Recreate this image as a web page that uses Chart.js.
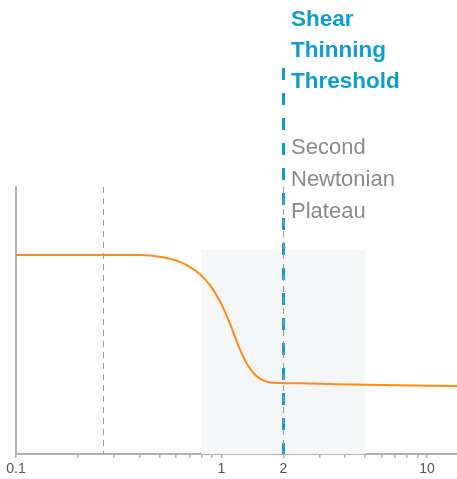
<!DOCTYPE html>
<html>
<head>
<meta charset="utf-8">
<script src="https://cdn.jsdelivr.net/npm/chart.js@4/dist/chart.umd.min.js"></script>
<style>
  html, body { margin: 0; padding: 0; background: #ffffff; }
  #wrap { width: 457px; height: 479px; }
</style>
</head>
<body>
<div id="wrap"><canvas id="chart" width="457" height="479"></canvas></div>
<script>
// Viscosity curve against shear rate (log scale), relative units on y
const shearRate = [0.1, 0.32, 0.40, 0.50, 0.628, 0.786, 0.879, 0.983, 1.100, 1.164, 1.231, 1.302, 1.377, 1.457, 1.541, 1.630, 1.724, 1.929, 2.415, 5.933, 14];
const viscosity = [74.53, 74.53, 74.53, 73.90, 71.95, 67.34, 63.22, 57.23, 48.80, 43.82, 39.06, 35.06, 31.95, 29.70, 28.20, 27.30, 26.82, 26.59, 26.48, 25.84, 25.47];

// Axis ticks
const xTicks = [0.1, 0.2, 0.3, 0.4, 0.5, 0.6, 0.7, 0.8, 0.9, 1, 2, 3, 4, 5, 6, 7, 8, 9, 10];
const xLabeled = [0.1, 1, 2, 10];
const xRange = [0.1, 14];
const yRange = [0, 100];

// Shaded transition band
const bandX = [0.8, 5];
const bandY = [0, 76.4];

// Reference lines
const onsetRate = 0.265;       // thin dashed marker
const thresholdRate = 2;       // highlighted threshold
const thresholdTop = 144.6;    // threshold line reaches above the plot
const thresholdLabel = ['Shear', 'Thinning', 'Threshold'];
const plateauLabel = ['Second', 'Newtonian', 'Plateau'];

const points = shearRate.map((x, i) => ({ x, y: viscosity[i] }));

const overlay = {
  id: 'overlay',
  beforeDatasetsDraw(chart) {
    const { ctx, scales: { x, y } } = chart;
    ctx.save();
    ctx.fillStyle = '#f5f6f8';
    const x0 = x.getPixelForValue(bandX[0]);
    const x1 = x.getPixelForValue(bandX[1]);
    const y0 = y.getPixelForValue(bandY[1]);
    const y1 = y.getPixelForValue(bandY[0]);
    ctx.fillRect(x0, y0, x1 - x0, y1 - y0);

    // thin dashed onset marker
    ctx.strokeStyle = '#9a9a9a';
    ctx.lineWidth = 1;
    ctx.setLineDash([6, 5]);
    const xo = Math.round(x.getPixelForValue(onsetRate)) + 0.5;
    ctx.beginPath();
    ctx.moveTo(xo, y.getPixelForValue(yRange[1]));
    ctx.lineTo(xo, y.getPixelForValue(yRange[0]));
    ctx.stroke();
    ctx.restore();
  },
  afterDatasetsDraw(chart) {
    const { ctx, scales: { x, y } } = chart;
    const xt = Math.round(x.getPixelForValue(thresholdRate));
    ctx.save();
    // highlighted threshold line
    ctx.strokeStyle = '#0e9dd0';
    ctx.lineWidth = 3;
    ctx.setLineDash([12, 13]);
    ctx.beginPath();
    ctx.moveTo(xt + 0.5, y.getPixelForValue(thresholdTop));
    ctx.lineTo(xt + 0.5, y.getPixelForValue(yRange[0]));
    ctx.stroke();

    // thin dashed marker at the same rate, inside the plot
    ctx.strokeStyle = '#9a9a9a';
    ctx.lineWidth = 1;
    ctx.setLineDash([6, 5]);
    ctx.beginPath();
    ctx.moveTo(xt + 0.5, y.getPixelForValue(yRange[1]));
    ctx.lineTo(xt + 0.5, y.getPixelForValue(yRange[0]));
    ctx.stroke();
    ctx.setLineDash([]);

    // labels
    ctx.textBaseline = 'middle';
    ctx.textAlign = 'left';
    ctx.fillStyle = '#0e9dd0';
    ctx.font = 'bold 22.5px "Liberation Sans", Arial, sans-serif';
    thresholdLabel.forEach((t, i) => ctx.fillText(t, xt + 8, 20 + i * 31));
    ctx.fillStyle = '#8a8a8a';
    ctx.font = '22px "Liberation Sans", Arial, sans-serif';
    plateauLabel.forEach((t, i) => ctx.fillText(t, xt + 8, 148 + i * 32));
    ctx.restore();
  }
};

new Chart(document.getElementById('chart'), {
  type: 'line',
  data: {
    datasets: [{
      data: points,
      borderColor: '#ff8a14',
      borderWidth: 2,
      pointRadius: 0,
      fill: false,
      cubicInterpolationMode: 'monotone'
    }]
  },
  options: {
    responsive: false,
    animation: false,
    events: [],
    layout: { padding: { top: 187, left: 16, right: 0, bottom: 0 } },
    plugins: { legend: { display: false }, tooltip: { enabled: false } },
    scales: {
      x: {
        type: 'logarithmic',
        min: xRange[0],
        max: xRange[1],
        afterBuildTicks(scale) {
          scale.ticks = xTicks.map(v => ({ value: v }));
        },
        afterFit(scale) { scale.height = 25; },
        border: { display: true, color: '#b0b0b0', width: 2 },
        grid: { display: true, drawOnChartArea: false, drawTicks: true, tickLength: 4, color: '#b0b0b0', lineWidth: 1.5 },
        ticks: {
          autoSkip: false,
          maxRotation: 0,
          padding: 3,
          color: '#555555',
          font: { family: '"Liberation Sans", Arial, sans-serif', size: 14 },
          callback: (v) => xLabeled.includes(v) ? String(v) : ''
        }
      },
      y: {
        type: 'linear',
        min: yRange[0],
        max: yRange[1],
        afterFit(scale) { scale.width = 0; },
        border: { display: true, color: '#b0b0b0', width: 2 },
        grid: { display: false },
        ticks: { display: false }
      }
    }
  },
  plugins: [overlay]
});
</script>
</body>
</html>
